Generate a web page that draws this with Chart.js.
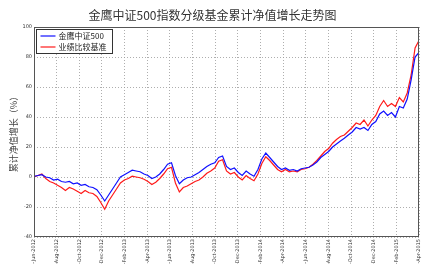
<!DOCTYPE html>
<html>
<head>
<meta charset="utf-8">
<script src="https://cdn.jsdelivr.net/npm/chart.js@4/dist/chart.umd.min.js"></script>
<style>
  html, body { margin: 0; padding: 0; background: #fff; }
  #wrap { width: 427px; height: 264px; }
</style>
</head>
<body>
<div id="wrap"><canvas id="c" width="427" height="264"></canvas></div>
<script>
// tick labels along the date axis (evenly spaced)
const dateLabels = [
  '5-Jun-2012', '5-Aug-2012', '5-Oct-2012', '5-Dec-2012', '5-Feb-2013', '5-Apr-2013',
  '5-Jun-2013', '5-Aug-2013', '5-Oct-2013', '5-Dec-2013', '5-Feb-2014', '5-Apr-2014',
  '5-Jun-2014', '5-Aug-2014', '5-Oct-2014', '5-Dec-2014', '5-Feb-2015', '5-Apr-2015'
];

const fundGrowth = [
  0.4, 1, 1.5, 0, -0.5, -2, -1.5, -3, -3.5, -3,
  -4.5, -4, -5.5, -5, -6.5, -7, -8.5, -12, -16, -12,
  -8, -4, 0, 1.5, 3, 4.5, 4, 3.5, 2, 1,
  -1, 0, 2, 5, 8.5, 9.5, 1, -4.5, -2, -0.5,
  0, 1.5, 3, 5, 7, 8.5, 9.5, 13, 14, 7,
  5, 6, 3, 1, 4, 2, 0.5, 5, 12, 16,
  13, 10, 7, 5, 6, 4.5, 5, 4, 5.5, 6,
  6.5, 8, 10, 13, 15, 17, 20, 22, 24, 25.8,
  28, 30, 33, 32, 33, 31, 35, 37, 42, 44,
  41, 43, 40, 47, 46, 52, 64.7, 80, 83
];
const benchGrowth = [
  0, 1, 2, -1, -3, -4, -5.5, -7, -9, -7,
  -8, -9.5, -11, -9, -10.5, -11, -13, -17, -21.5, -16,
  -12, -8, -4, -2, -1, 0.5, 0, -0.5, -1.5, -3,
  -5, -3.5, -1, 2, 5.5, 6.5, -4, -10, -7, -6,
  -4.5, -3, -2, 0, 2.5, 4, 6, 10.5, 11.5, 4,
  2, 3, 0, -2, 1, -1, -2.5, 2, 9, 13.5,
  11, 8, 5, 3.5, 5, 3.5, 4, 3.5, 5, 5.5,
  6.5, 8.5, 11, 14, 17, 19, 22.5, 25, 27, 28,
  30.5, 33, 36, 35, 38, 34, 38, 41, 47, 51,
  47, 49, 47, 53, 50, 56, 68, 86, 91
];

const seriesNames = ['金鹰中证500', '业绩比较基准'];
const seriesColors = ['#1010ff', '#ff1a1a'];
const yTicks = [-40, -20, 0, 20, 40, 60, 80, 100];

const lastIdx = fundGrowth.length - 1;
const tickStep = lastIdx / (dateLabels.length - 1);
const toPoints = arr => arr.map((v, i) => ({ x: i, y: v }));

// legend box + full frame, drawn like the original figure
const frameAndLegend = {
  id: 'frameAndLegend',
  afterDatasetsDraw(chart) {
    const { ctx, chartArea: a } = chart;
    ctx.save();
    ctx.strokeStyle = '#555';
    ctx.lineWidth = 1;
    ctx.strokeRect(a.left + 0.5, a.top + 0.5, a.right - a.left - 1, a.bottom - a.top - 1);

    const bx = a.left + 2.5, by = a.top + 2.5, bw = 76, bh = 24;
    ctx.fillStyle = '#fff';
    ctx.fillRect(bx, by, bw, bh);
    ctx.strokeStyle = '#333';
    ctx.strokeRect(bx, by, bw, bh);
    ctx.font = '8px "Noto Sans CJK SC"';
    ctx.textBaseline = 'middle';
    chart.data.datasets.forEach((ds, i) => {
      const y = by + 6.5 + i * 11;
      ctx.strokeStyle = ds.borderColor;
      ctx.lineWidth = 1.2;
      ctx.beginPath();
      ctx.moveTo(bx + 4, y);
      ctx.lineTo(bx + 19, y);
      ctx.stroke();
      ctx.fillStyle = '#222';
      ctx.fillText(ds.label, bx + 22, y);
    });
    ctx.restore();
  }
};

new Chart(document.getElementById('c'), {
  type: 'line',
  data: {
    datasets: seriesNames.map((name, i) => ({
      label: name,
      data: toPoints(i === 0 ? fundGrowth : benchGrowth),
      borderColor: seriesColors[i],
      borderWidth: 1.2,
      pointRadius: 0,
      tension: 0,
      fill: false
    }))
  },
  options: {
    responsive: false,
    animation: false,
    layout: { padding: { left: 0, right: 2, top: 0, bottom: 0 } },
    plugins: {
      legend: { display: false },
      tooltip: { enabled: false },
      title: {
        display: true,
        text: '金鹰中证500指数分级基金累计净值增长走势图',
        color: '#333',
        font: { family: 'Noto Sans CJK SC', size: 12, weight: 'normal' },
        padding: { top: 8, bottom: 4.6 }
      }
    },
    scales: {
      x: {
        type: 'linear',
        min: 0,
        max: lastIdx,
        afterBuildTicks(scale) {
          scale.ticks = dateLabels.map((_, k) => ({ value: k * tickStep }));
        },
        afterFit(scale) { scale.height = 27; },
        ticks: {
          autoSkip: false,
          minRotation: 90,
          maxRotation: 90,
          padding: 2,
          color: '#333',
          font: { family: 'DejaVu Sans', size: 5 },
          callback: (v, k) => dateLabels[k]
        },
        grid: {
          color: '#999',
          lineWidth: 0.8,
          drawTicks: false
        },
        border: { display: false, dash: [1, 2] }
      },
      y: {
        min: -40,
        max: 100,
        afterBuildTicks(scale) {
          scale.ticks = yTicks.map(v => ({ value: v }));
        },
        afterFit(scale) { scale.width = 34; },
        title: {
          display: true,
          text: '累计净值增长（%）',
          color: '#444',
          font: { family: 'Noto Sans CJK SC', size: 9 },
          padding: { top: 8, bottom: 0 }
        },
        ticks: {
          color: '#333',
          padding: 2,
          font: { family: 'DejaVu Sans', size: 5 }
        },
        grid: {
          color: '#999',
          lineWidth: 0.8,
          drawTicks: false
        },
        border: { display: false, dash: [1, 2] }
      }
    }
  },
  plugins: [frameAndLegend]
});
</script>
</body>
</html>
